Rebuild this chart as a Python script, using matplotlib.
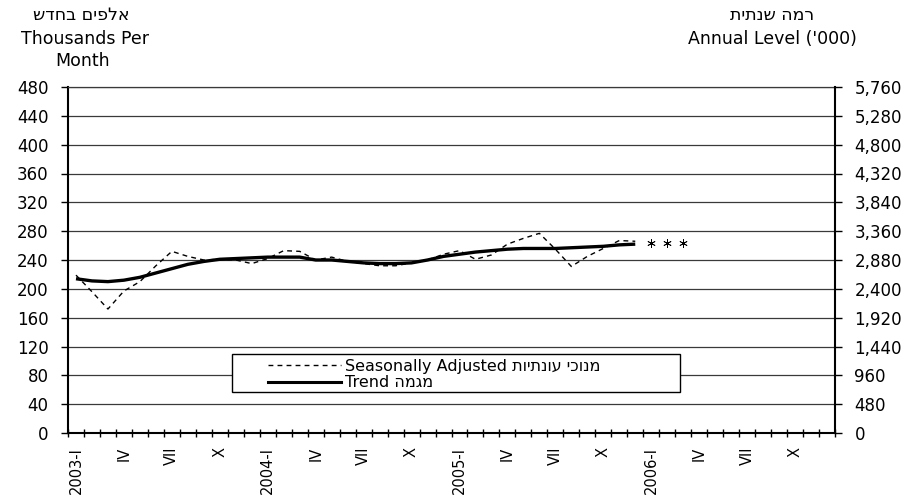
import matplotlib
matplotlib.use("Agg")
import matplotlib.pyplot as plt
from matplotlib.patches import Rectangle
from matplotlib.lines import Line2D
from matplotlib.ticker import FuncFormatter, MultipleLocator, FixedLocator
import numpy as np

# ---------------- data ----------------
# monthly values, 2003-I ... 2005-XII (thousands per month)
seasonally_adjusted = [219, 196, 172, 197, 210, 232, 252, 245, 240, 241, 240, 235,
                       242, 253, 252, 240, 244, 238, 235, 232, 232, 236, 240, 248,
                       253, 241, 247, 262, 270, 277, 255, 231, 245, 256, 267, 266]
trend = [214, 211, 210, 212, 216, 222, 228, 234, 238, 241, 242, 243,
         244, 244, 244, 240, 240, 238, 236, 235, 235, 236, 240, 245,
         248, 251, 253, 255, 256, 256, 256, 257, 258, 259, 261, 262]
# asterisk marks, 2006-I ... 2006-III
asterisk_months = [36, 37, 38]
asterisk_values = [263, 263, 263]

n_months_axis = 48
label_months = [0, 3, 6, 9, 12, 15, 18, 21, 24, 27, 30, 33, 36, 39, 42, 45]
label_texts = ["2003-I", "IV", "VII", "X", "2004-I", "IV", "VII", "X",
               "2005-I", "IV", "VII", "X", "2006-I", "IV", "VII", "X"]
left_ticks = list(range(0, 481, 40))
annual_factor = 12

title_left_he = "אלפים בחדש"
title_left_en = ["Thousands Per", "Month"]
title_right_he = "רמה שנתית"
title_right_en = "Annual Level ('000)"
legend_sa_en, legend_sa_he = "Seasonally Adjusted", "מנוכי עונתיות"
legend_tr_en, legend_tr_he = "Trend", "מגמה"


def vis(s):
    # matplotlib does not apply bidi: give Hebrew in visual order
    return s[::-1]


plt.rcParams["font.family"] = ["DejaVu Sans"]
W, H = 909, 496
fig = plt.figure(figsize=(W / 100, H / 100), dpi=100)
fig.patch.set_facecolor("white")

x0, x1, ytop, ybot = 68, 835, 87, 433
ax = fig.add_axes([x0 / W, 1 - ybot / H, (x1 - x0) / W, (ybot - ytop) / H])
ax.set_xlim(0, n_months_axis)
ax.set_ylim(0, 480)

# grid
ax.set_yticks(left_ticks)
ax.yaxis.grid(True, color="#3a3a3a", lw=0.9)
ax.set_axisbelow(True)

xs = np.arange(len(trend)) + 0.5
ax.plot(xs, seasonally_adjusted, color="black", lw=1.0, ls=(0, (3.5, 3)), zorder=3)
ax.plot(xs, trend, color="black", lw=2.4, solid_capstyle="butt", zorder=4)
ax.plot(np.array(asterisk_months) + 0.5, asterisk_values, ls="none",
        marker=(6, 2, 0), ms=6, mew=0.6, color="black", zorder=4)

# x axis ticks
ax.xaxis.set_major_locator(MultipleLocator(1))
ax.xaxis.set_major_formatter(FuncFormatter(lambda v, p: ""))
ax.xaxis.set_minor_locator(FixedLocator([m + 0.5 for m in label_months]))
ax.set_xticklabels(label_texts, minor=True, rotation=90)
ax.tick_params(axis="x", which="major", direction="inout", length=6, width=1.0, color="black")
ax.tick_params(axis="x", which="minor", length=0, pad=10, labelsize=10.5)

ax.tick_params(axis="y", which="major", direction="out", length=5, width=1.0,
               pad=9, labelsize=12, left=True)

for s in ["left", "bottom"]:
    ax.spines[s].set_color("black")
    ax.spines[s].set_linewidth(1.5)
ax.spines["right"].set_visible(False)
ax.spines["top"].set_color("#3a3a3a")
ax.spines["top"].set_linewidth(0.9)

ax2 = ax.twinx()
ax2.set_ylim(0, 480 * annual_factor)
ax2.set_yticks([v * annual_factor for v in left_ticks])
ax2.yaxis.set_major_formatter(FuncFormatter(lambda v, p: f"{int(v):,}"))
ax2.tick_params(axis="y", direction="out", length=5, width=1.0, pad=9, labelsize=12)
for s in ["left", "top", "bottom"]:
    ax2.spines[s].set_visible(False)
ax2.spines["right"].set_color("black")
ax2.spines["right"].set_linewidth(1.5)

# headers
fig.text(81 / W, 1 - 15 / H, vis(title_left_he), ha="center", va="center", fontsize=12.5)
fig.text(85 / W, 1 - 39 / H, title_left_en[0], ha="center", va="center", fontsize=12.5)
fig.text(83 / W, 1 - 61 / H, title_left_en[1], ha="center", va="center", fontsize=12.5)
fig.text(772 / W, 1 - 15 / H, vis(title_right_he), ha="center", va="center", fontsize=12.5)
fig.text(772 / W, 1 - 39 / H, title_right_en, ha="center", va="center", fontsize=12.5)

# legend box
rect = Rectangle((232 / W, 1 - 392 / H), (680 - 232) / W, (392 - 354) / H,
                 transform=fig.transFigure, facecolor="white", edgecolor="black",
                 lw=1.0, zorder=3)
fig.add_artist(rect)
handles = [Line2D([], [], color="black", lw=1.0, ls=(0, (3.5, 3))),
           Line2D([], [], color="black", lw=2.2)]
labels = [f"{legend_sa_en} {vis(legend_sa_he)}", f"{legend_tr_en} {vis(legend_tr_he)}"]
leg = fig.legend(handles, labels, loc="upper left",
                 bbox_to_anchor=(268 / W, 1 - 359 / H), frameon=False,
                 handlelength=4.6, handletextpad=0.2, labelspacing=0.08,
                 borderpad=0, borderaxespad=0, fontsize=11.5)
leg.set_zorder(5)

fig.savefig("out.png", dpi=100, facecolor="white")
